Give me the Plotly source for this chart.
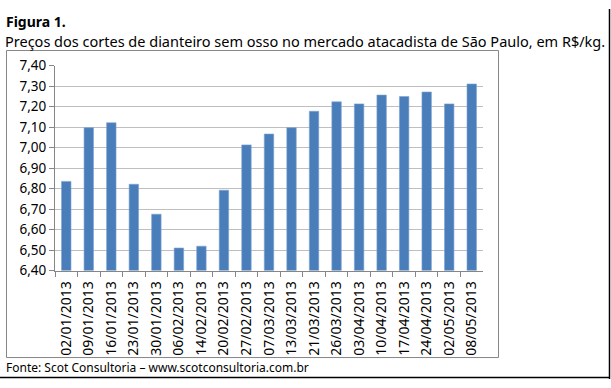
import plotly.graph_objects as go

W, H = 611, 388

dates = ["02/01/2013", "09/01/2013", "16/01/2013", "23/01/2013", "30/01/2013",
         "06/02/2013", "14/02/2013", "20/02/2013", "27/02/2013", "07/03/2013",
         "13/03/2013", "21/03/2013", "26/03/2013", "03/04/2013", "10/04/2013",
         "17/04/2013", "24/04/2013", "02/05/2013", "08/05/2013"]
prices = [6.835, 7.097, 7.121, 6.821, 6.675, 6.510, 6.519, 6.792, 7.013, 7.066,
          7.097, 7.177, 7.223, 7.213, 7.256, 7.249, 7.271, 7.213, 7.310]
y_ticks = [6.40, 6.50, 6.60, 6.70, 6.80, 6.90, 7.00, 7.10, 7.20, 7.30, 7.40]

title_text = "<b>Figura 1.</b>"
subtitle_text = "Preços dos cortes de dianteiro sem osso no mercado atacadista de São Paulo, em R$/kg."
source_text = "Fonte: Scot Consultoria – www.scotconsultoria.com.br"

FONT = "Noto Sans"

def px(x):
    return x / W

def py(y):
    return 1 - y / H

fig = go.Figure(go.Bar(
    x=dates, y=prices,
    marker=dict(color="#4A7EBB", line=dict(color="#7EA2CF", width=0.6)),
    width=0.42,
))

fig.update_layout(
    width=W, height=H, autosize=False,
    margin=dict(l=0, r=0, t=0, b=0),
    paper_bgcolor="white", plot_bgcolor="white",
    separators=",.",
    showlegend=False,
    font=dict(family=FONT, color="#000000"),
    xaxis=dict(
        domain=[px(55), px(483)],
        type="category",
        tickangle=-90,
        tickfont=dict(size=14, family=FONT, color="#000"),
        showline=True, linecolor="#868686", linewidth=1,
        ticks="outside", ticklen=5, tickcolor="#868686",
        tickson="boundaries",
        ticklabelstandoff=4,
        showgrid=False,
        fixedrange=True,
    ),
    yaxis=dict(
        domain=[py(274.3), py(59.3)],
        range=[6.4, 7.4],
        tickvals=y_ticks,
        tickformat=".2f",
        tickfont=dict(size=13.5, family=FONT, color="#000"),
        showline=True, linecolor="#868686", linewidth=1,
        ticks="outside", ticklen=5, tickcolor="#868686",
        showgrid=True, gridcolor="#BFBFBF", gridwidth=1,
        zeroline=False,
        fixedrange=True,
    ),
    annotations=[
        dict(text=title_text, x=px(5), y=py(2), xref="paper", yref="paper",
             xanchor="left", yanchor="top", showarrow=False, borderpad=0,
             font=dict(size=14, family=FONT, color="#000")),
        dict(text=subtitle_text, x=px(4), y=py(22.5), xref="paper", yref="paper",
             xanchor="left", yanchor="top", showarrow=False, borderpad=0,
             font=dict(size=14.5, family=FONT, color="#000")),
        dict(text=source_text, x=px(5), y=py(366.5), xref="paper", yref="paper",
             xanchor="left", yanchor="top", showarrow=False, borderpad=0,
             font=dict(size=12, family=FONT, color="#000")),
    ],
    shapes=[
        dict(type="rect", xref="paper", yref="paper",
             x0=px(6.5), x1=px(498.5), y0=py(365.5), y1=py(43.5),
             line=dict(color="#868686", width=1)),
        dict(type="line", xref="paper", yref="paper",
             x0=px(609.5), x1=px(609.5), y0=0, y1=1,
             line=dict(color="#000", width=1.5)),
        dict(type="line", xref="paper", yref="paper",
             x0=0, x1=px(610), y0=py(386.5), y1=py(386.5),
             line=dict(color="#000", width=1.5)),
    ],
)

fig.write_html("out.html", config={"displayModeBar": False},
               post_script="document.body.style.margin='0px';")
